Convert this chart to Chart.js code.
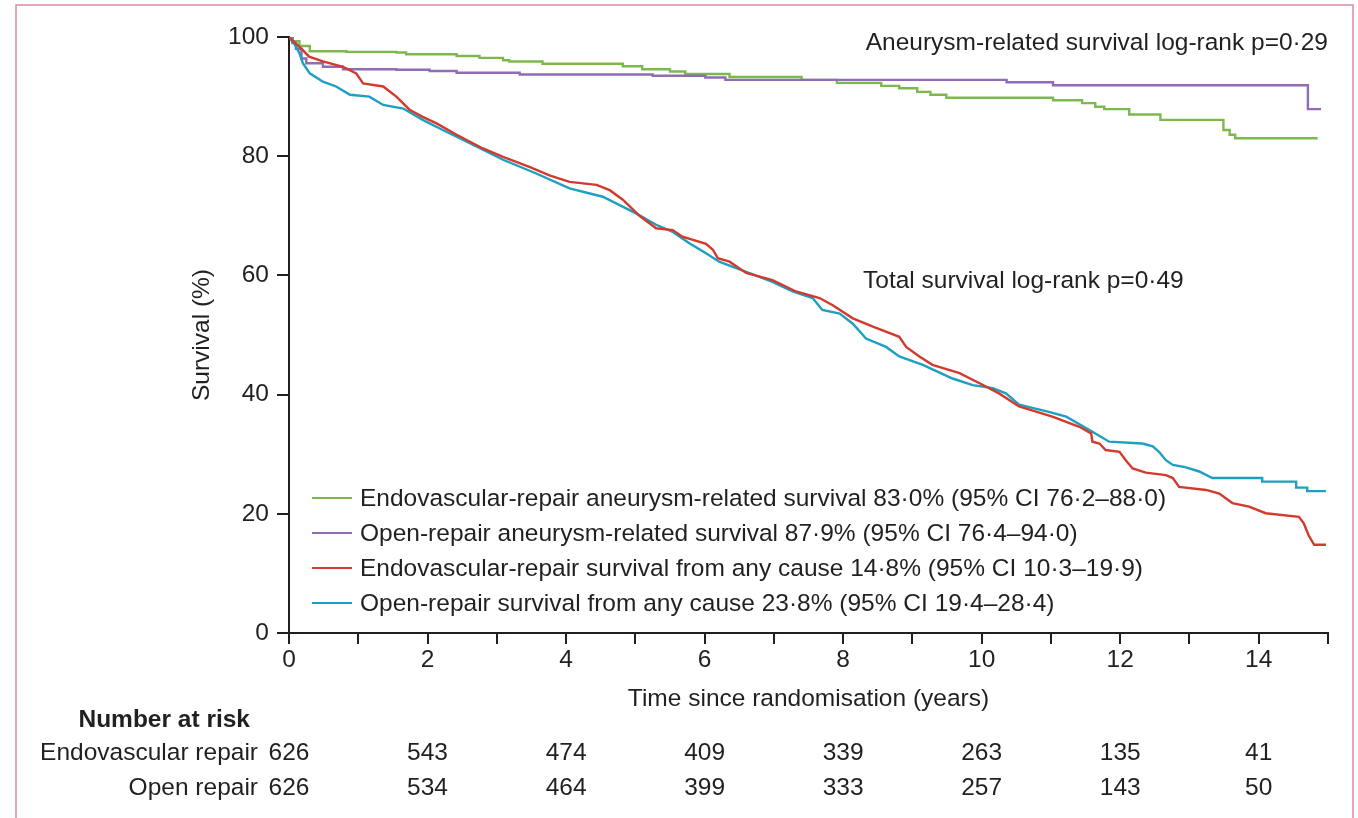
<!DOCTYPE html>
<html>
<head>
<meta charset="utf-8">
<script src="https://cdn.jsdelivr.net/npm/chart.js@4.4.1/dist/chart.umd.min.js"></script>
<style>
  html, body { margin: 0; padding: 0; background: #fff; }
  #wrap { width: 1358px; height: 818px; }
</style>
</head>
<body>
<div id="wrap"><canvas id="km" width="1358" height="818"></canvas></div>
<script>
// Kaplan-Meier curves, [years, survival %]
const endoAneurysm = [[0,100],[0.05,99.3],[0.15,98.5],[0.3,97.6],[0.83,97.5],[1.55,97.4],[1.69,97.1],[2.42,96.8],[2.75,96.5],[3.09,96.1],[3.18,95.9],[3.66,95.5],[4.82,95.1],[5.1,94.6],[5.5,94.2],[5.72,93.8],[6.36,93.3],[7.4,92.8],[7.91,92.3],[8.55,91.8],[8.81,91.4],[9.07,90.8],[9.26,90.3],[9.49,89.8],[11.03,89.4],[11.45,88.9],[11.64,88.3],[11.77,87.9],[12.13,87.0],[12.58,86.1],[13.49,84.4],[13.58,83.6],[13.66,83.0],[14.85,83.0]];
const openAneurysm = [[0,100],[0.05,99],[0.1,98],[0.18,96.4],[0.25,95.6],[0.49,95.0],[0.78,94.6],[1.55,94.5],[2.03,94.3],[2.42,94.0],[3.33,93.7],[5.25,93.5],[6.01,93.2],[6.3,92.8],[10.36,92.4],[11.03,91.9],[14.71,87.9],[14.9,87.9]];
const endoTotal = [[0,100],[0.1,98.9],[0.2,97.8],[0.29,96.7],[0.49,95.9],[0.78,95.0],[0.97,93.9],[1.07,92.2],[1.36,91.7],[1.55,90.0],[1.74,87.8],[1.93,86.6],[2.13,85.5],[2.42,83.6],[2.8,81.3],[3.09,79.9],[3.47,78.2],[3.76,76.8],[4.05,75.7],[4.44,75.2],[4.63,74.3],[4.82,72.7],[5.06,70.0],[5.3,67.9],[5.54,67.6],[5.68,66.5],[6.02,65.3],[6.12,64.3],[6.19,62.9],[6.36,62.3],[6.6,60.4],[6.98,59.2],[7.32,57.3],[7.66,56.2],[7.85,55.0],[8.14,52.8],[8.43,51.4],[8.81,49.7],[8.91,48.0],[9.1,46.4],[9.29,45.0],[9.68,43.6],[9.97,41.9],[10.25,40.2],[10.54,38.0],[11.02,36.3],[11.41,34.6],[11.58,33.5],[11.6,32.1],[11.7,31.8],[11.79,30.7],[11.99,30.4],[12.08,29.0],[12.18,27.6],[12.37,26.9],[12.66,26.5],[12.76,26.0],[12.85,24.5],[13.24,24.0],[13.43,23.4],[13.62,21.8],[13.86,21.2],[14.1,20.1],[14.58,19.5],[14.65,18.4],[14.72,16.4],[14.8,14.8],[14.97,14.8]];
const openTotal = [[0,100],[0.08,98.8],[0.15,97.3],[0.2,95.6],[0.3,93.9],[0.49,92.5],[0.68,91.7],[0.88,90.3],[1.16,90.0],[1.36,88.6],[1.65,88.0],[1.93,86.1],[2.22,84.4],[2.61,82.2],[3.09,79.4],[3.57,77.1],[4.05,74.6],[4.53,73.2],[5.01,70.4],[5.3,68.5],[5.54,67.3],[5.78,65.4],[6.02,63.7],[6.21,62.3],[6.6,60.6],[6.98,58.9],[7.27,57.3],[7.56,56.2],[7.7,54.2],[7.95,53.6],[8.14,51.9],[8.33,49.4],[8.62,48.0],[8.81,46.4],[9.15,45.0],[9.58,42.7],[9.87,41.6],[10.16,41.1],[10.35,40.2],[10.54,38.3],[10.97,37.1],[11.22,36.3],[11.55,34.1],[11.84,32.1],[12.32,31.8],[12.47,31.3],[12.56,30.4],[12.66,29.0],[12.76,28.2],[12.95,27.8],[13.14,27.1],[13.33,26.0],[14.05,26.0],[14.05,25.4],[14.54,25.4],[14.54,24.4],[14.7,24.4],[14.7,23.8],[14.97,23.8]];

const seriesLabels = [
  'Endovascular-repair aneurysm-related survival 83·0% (95% CI 76·2–88·0)',
  'Open-repair aneurysm-related survival 87·9% (95% CI 76·4–94·0)',
  'Endovascular-repair survival from any cause 14·8% (95% CI 10·3–19·9)',
  'Open-repair survival from any cause 23·8% (95% CI 19·4–28·4)'
];
const seriesColors = ['#7cb84a', '#8f6cb3', '#d33a2e', '#1c9fc0'];

// number at risk table
const riskYears = [0, 2, 4, 6, 8, 10, 12, 14];
const riskEndo = [626, 543, 474, 409, 339, 263, 135, 41];
const riskOpen = [626, 534, 464, 399, 333, 257, 143, 50];
const riskGroups = ['Endovascular repair', 'Open repair'];

const yTicks = [0, 20, 40, 60, 80, 100];

const FONT = '"Liberation Sans", Arial, sans-serif';
const INK = '#231f20';

const toPts = arr => arr.map(p => ({ x: p[0], y: p[1] }));

// legend, annotations, risk table and frame
const extrasPlugin = {
  id: 'extras',
  afterDraw(chart) {
    const ctx = chart.ctx;
    const xs = chart.scales.x;
    ctx.save();

    // frame
    ctx.strokeStyle = '#d98c9d';
    ctx.lineWidth = 1.5;
    ctx.beginPath();
    ctx.moveTo(16, 818);
    ctx.lineTo(16, 5);
    ctx.lineTo(1353, 5);
    ctx.lineTo(1353, 818);
    ctx.stroke();

    ctx.fillStyle = INK;
    ctx.font = '24.5px ' + FONT;
    ctx.textBaseline = 'alphabetic';
    ctx.textAlign = 'right';
    ctx.fillText('Aneurysm-related survival log-rank p=0·29', xs.right, 50);
    ctx.textAlign = 'left';
    ctx.fillText('Total survival log-rank p=0·49', 863, 288);

    // legend
    ctx.textBaseline = 'middle';
    const legY = [498, 533, 568, 603];
    seriesLabels.forEach((lab, i) => {
      ctx.strokeStyle = seriesColors[i];
      ctx.lineWidth = 2;
      ctx.beginPath();
      ctx.moveTo(312, legY[i]);
      ctx.lineTo(352, legY[i]);
      ctx.stroke();
      ctx.fillStyle = INK;
      ctx.fillText(lab, 360, legY[i] + 1);
    });

    // number at risk
    ctx.textAlign = 'right';
    ctx.font = 'bold 24.5px ' + FONT;
    ctx.fillText('Number at risk', 250, 720);
    ctx.font = '24.5px ' + FONT;
    const rowY = [753, 788];
    [riskEndo, riskOpen].forEach((row, r) => {
      ctx.textAlign = 'right';
      ctx.fillText(riskGroups[r], 258, rowY[r]);
      ctx.textAlign = 'center';
      row.forEach((n, i) => {
        ctx.fillText(String(n), xs.getPixelForValue(riskYears[i]), rowY[r]);
      });
    });
    ctx.restore();
  }
};

const mkSet = (data, i, stepped, order) => ({
  label: seriesLabels[i],
  data: toPts(data),
  borderColor: seriesColors[i],
  borderWidth: 2.4,
  pointRadius: 0,
  fill: false,
  tension: 0,
  stepped: stepped,
  order: order
});

new Chart(document.getElementById('km'), {
  type: 'line',
  data: {
    datasets: [
      mkSet(endoAneurysm, 0, true, 3),
      mkSet(openAneurysm, 1, true, 2),
      mkSet(endoTotal, 2, false, 0),
      mkSet(openTotal, 3, false, 1)
    ]
  },
  options: {
    responsive: false,
    animation: false,
    devicePixelRatio: 1,
    layout: { padding: { left: 184, right: 30, top: 37, bottom: 100 } },
    plugins: { legend: { display: false }, tooltip: { enabled: false } },
    scales: {
      x: {
        type: 'linear',
        min: 0,
        max: 15,
        afterFit: s => { s.height = 85; },
        afterBuildTicks: s => { s.ticks = Array.from({ length: 16 }, (_, i) => ({ value: i })); },
        ticks: {
          autoSkip: false,
          maxRotation: 0,
          padding: 2,
          color: INK,
          font: { family: FONT, size: 24.5 },
          callback: v => (v % 2 === 0 && v < 15 ? String(v) : '')
        },
        grid: { drawOnChartArea: false, drawTicks: true, tickLength: 11, color: INK, lineWidth: 2 },
        border: { display: true, color: INK, width: 2 },
        title: { display: true, text: 'Time since randomisation (years)', color: INK, font: { family: FONT, size: 24.5 } }
      },
      y: {
        min: 0,
        max: 100,
        afterFit: s => { s.width = 105; },
        afterBuildTicks: s => { s.ticks = yTicks.map(v => ({ value: v })); },
        ticks: {
          padding: 8,
          color: INK,
          font: { family: FONT, size: 24.5 }
        },
        grid: { drawOnChartArea: false, drawTicks: true, tickLength: 12, color: INK, lineWidth: 2 },
        border: { display: true, color: INK, width: 2 },
        title: { display: true, text: 'Survival (%)', color: INK, font: { family: FONT, size: 24.5 } }
      }
    }
  },
  plugins: [extrasPlugin]
});
</script>
</body>
</html>
